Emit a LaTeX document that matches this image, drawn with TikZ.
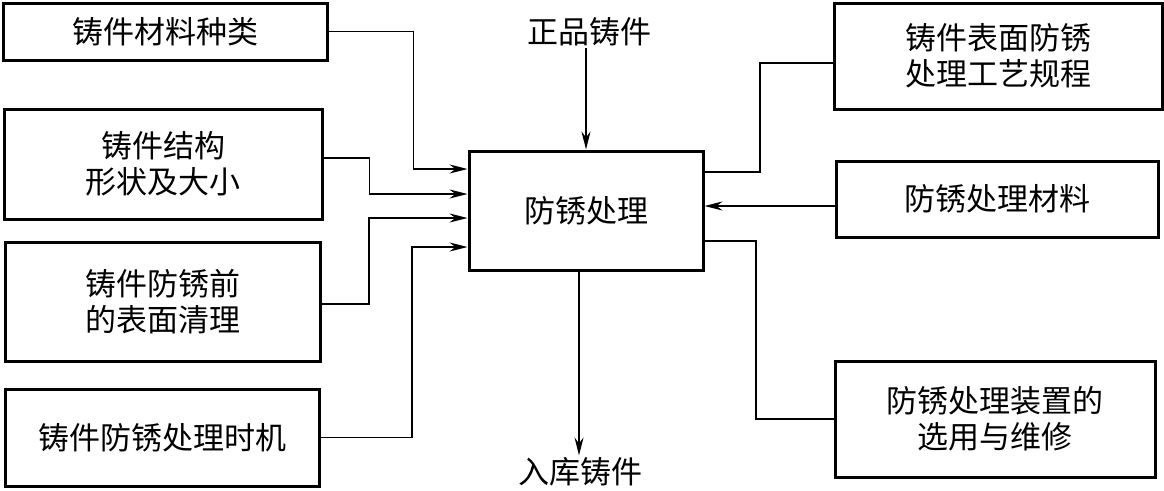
\documentclass[tikz,border=0pt]{standalone}
\usepackage{fontspec}
\setmainfont{Noto Sans CJK SC}
\usetikzlibrary{arrows.meta}
\begin{document}
\begin{tikzpicture}[x=1pt,y=-1pt,
  txt/.style={font=\fontsize{31}{36}\selectfont},
  box/.style={draw,line width=3pt,inner sep=0pt,align=center,txt},
  conn/.style={line width=1.4pt},
  arr/.style={conn,-{Stealth[length=18pt,width=9pt,inset=6pt]}}]
\useasboundingbox (0,0) rectangle (1164,490);
% left boxes
\node[box,minimum width=324pt,minimum height=57pt]  (b1) at (165,31.5)   {铸件材料种类};
\node[box,minimum width=318pt,minimum height=110pt] (b2) at (163,164)    {铸件结构\\形状及大小};
\node[box,minimum width=315pt,minimum height=119pt] (b3) at (162.5,301.5) {铸件防锈前\\的表面清理};
\node[box,minimum width=314pt,minimum height=97pt]  (b4) at (162,437.5)  {铸件防锈处理时机};
% centre
\node[box,minimum width=234pt,minimum height=119pt] (c) at (586,210.5) {防锈处理};
% right boxes
\node[box,minimum width=328pt,minimum height=106pt] (r1) at (998,56)  {铸件表面防锈\\处理工艺规程};
\node[box,minimum width=322pt,minimum height=76pt]  (r2) at (997,199) {防锈处理材料};
\node[box,minimum width=320pt,minimum height=116pt] (r3) at (995,419) {防锈处理装置的\\选用与维修};
% top / bottom labels
\node[txt,inner sep=2pt] (tin)  at (589,32)  {正品铸件};
\node[txt,inner sep=2pt] (tout) at (580,472) {入库铸件};
% connectors into centre
\draw[arr] (b1.east) -- ++(85,0) |- ([yshift=-19.5pt]c.north west);
\draw[arr] ([yshift=6pt]b2.east) -- ++(46,0) |- ([yshift=-44.5pt]c.north west);
\draw[arr] ([yshift=-2.5pt]b3.east) -- ++(47.5,0) |- ([yshift=-68.5pt]c.north west);
\draw[arr] (b4.east) -- ++(91.5,0) |- ([yshift=-97.5pt]c.north west);
% top and bottom
\draw[arr] (tin.south -| c.north) -- (c.north);
\coordinate (cout) at ([xshift=-7pt]c.south);
\draw[arr] (cout) -- (cout |- tout.north);
% right side
\draw[conn] ([yshift=-22.5pt]c.north east) -- ++(55.5,0) |- ([yshift=-7pt]r1.west);
\coordinate (r2in) at ([yshift=-7pt]r2.west);
\draw[arr] (r2in) -- (r2in -| c.east);
\draw[conn] ([yshift=-91.5pt]c.north east) -- ++(51.5,0) |- (r3.west);
\end{tikzpicture}
\end{document}
